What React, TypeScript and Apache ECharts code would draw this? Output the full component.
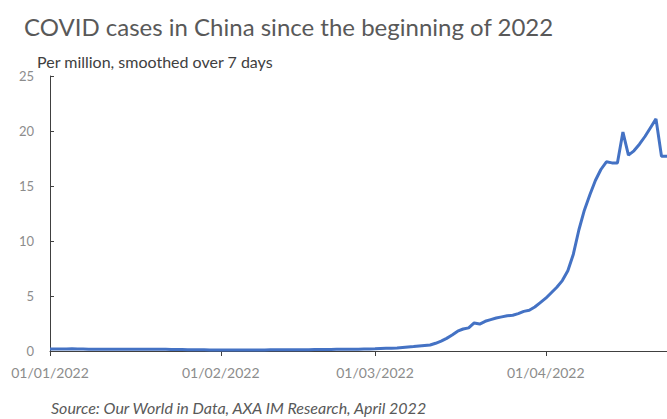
import React, { useEffect, useRef } from "react";
import * as echarts from "echarts";

const startDate = "2022-01-01";
// Daily values, cases per million (7-day smoothed), 1 Jan 2022 .. 23 Apr 2022
const casesPerMillion: number[] = [
  // January (31)
  0.18, 0.18, 0.19, 0.19, 0.2, 0.19, 0.18, 0.17, 0.17, 0.16,
  0.16, 0.16, 0.15, 0.15, 0.15, 0.15, 0.16, 0.16, 0.17, 0.17,
  0.16, 0.15, 0.14, 0.13, 0.13, 0.12, 0.12, 0.11, 0.11, 0.1,
  0.1,
  // February (28)
  0.1, 0.1, 0.1, 0.1, 0.1, 0.1, 0.1, 0.1, 0.1, 0.11,
  0.11, 0.11, 0.11, 0.11, 0.12, 0.12, 0.12, 0.13, 0.13, 0.14,
  0.14, 0.15, 0.15, 0.16, 0.16, 0.17, 0.18, 0.19,
  // March (31)
  0.2, 0.22, 0.24, 0.26, 0.28, 0.32, 0.36, 0.4, 0.45, 0.5,
  0.55, 0.7, 0.9, 1.15, 1.45, 1.8, 2.0, 2.1, 2.55, 2.45,
  2.7, 2.85, 3.0, 3.1, 3.2, 3.25, 3.4, 3.6, 3.7, 4.0,
  4.4,
  // April 1..23
  4.8, 5.3, 5.8, 6.4, 7.3, 8.8, 11.0, 12.8, 14.2, 15.5,
  16.5, 17.2, 17.1, 17.1, 19.9, 17.8, 18.2, 18.8, 19.5, 20.3,
  21.1, 17.7, 17.7,
];

const yTicks = { min: 0, max: 25, interval: 5 };

function buildDates(start: string, n: number): string[] {
  const d0 = new Date(start + "T00:00:00Z");
  const out: string[] = [];
  for (let i = 0; i < n; i++) {
    const d = new Date(d0.getTime() + i * 86400000);
    const dd = String(d.getUTCDate()).padStart(2, "0");
    const mm = String(d.getUTCMonth() + 1).padStart(2, "0");
    out.push(`${dd}/${mm}/${d.getUTCFullYear()}`);
  }
  return out;
}

const dates = buildDates(startDate, casesPerMillion.length);

export default function App() {
  const ref = useRef<HTMLDivElement>(null);
  useEffect(() => {
    if (!ref.current) return;
    const chart = echarts.init(ref.current, undefined, { renderer: "svg" });
    const font = "Lato, 'Open Sans', sans-serif";
    const isMonthStart = (idx: number, val: string) => val.startsWith("01/");
    chart.setOption({
      animation: false,
      backgroundColor: "#ffffff",
      textStyle: { fontFamily: font },
      title: [
        {
          text: "COVID cases in China since the beginning of 2022",
          left: 19,
          top: 9,
          textStyle: { fontFamily: font, fontSize: 24, fontWeight: "normal", color: "#595959" },
        },
        {
          text: "Per million, smoothed over 7 days",
          left: 32,
          top: 47,
          textStyle: { fontFamily: font, fontSize: 16, lineHeight: 18, fontWeight: "normal", color: "#404040" },
        },
        {
          text: "Source: Our World in Data, AXA IM Research, April 2022",
          left: 51,
          top: 398,
          padding: 0,
          textStyle: {
            fontFamily: font,
            fontSize: 16,
            lineHeight: 18,
            fontStyle: "italic",
            fontWeight: "normal",
            color: "#595959",
          },
        },
      ],
      grid: { left: 50, right: 0, top: 76, bottom: 68, containLabel: false },
      xAxis: {
        type: "category",
        data: dates,
        boundaryGap: false,
        axisLine: { lineStyle: { color: "#404040", width: 1 } },
        axisTick: { show: true, interval: isMonthStart, length: 5, lineStyle: { color: "#404040" } },
        axisLabel: {
          interval: isMonthStart,
          color: "#8c8c8c",
          fontSize: 14,
          margin: 14,
          fontFamily: font,
        },
        splitLine: { show: false },
      },
      yAxis: {
        type: "value",
        min: yTicks.min,
        max: yTicks.max,
        interval: yTicks.interval,
        axisLine: { show: true, lineStyle: { color: "#404040", width: 1 } },
        axisTick: { show: true, inside: true, length: 4, lineStyle: { color: "#404040" } },
        axisLabel: { color: "#8c8c8c", fontSize: 13, margin: 16, fontFamily: font },
        splitLine: { show: false },
      },
      series: [
        {
          type: "line",
          data: casesPerMillion,
          showSymbol: false,
          symbol: "none",
          lineStyle: { color: "#4472C4", width: 3 },
          itemStyle: { color: "#4472C4" },
        },
      ],
    });
    return () => chart.dispose();
  }, []);
  return <div ref={ref} style={{ width: 667, height: 419, position: "absolute", left: 0, top: 0 }} />;
}
